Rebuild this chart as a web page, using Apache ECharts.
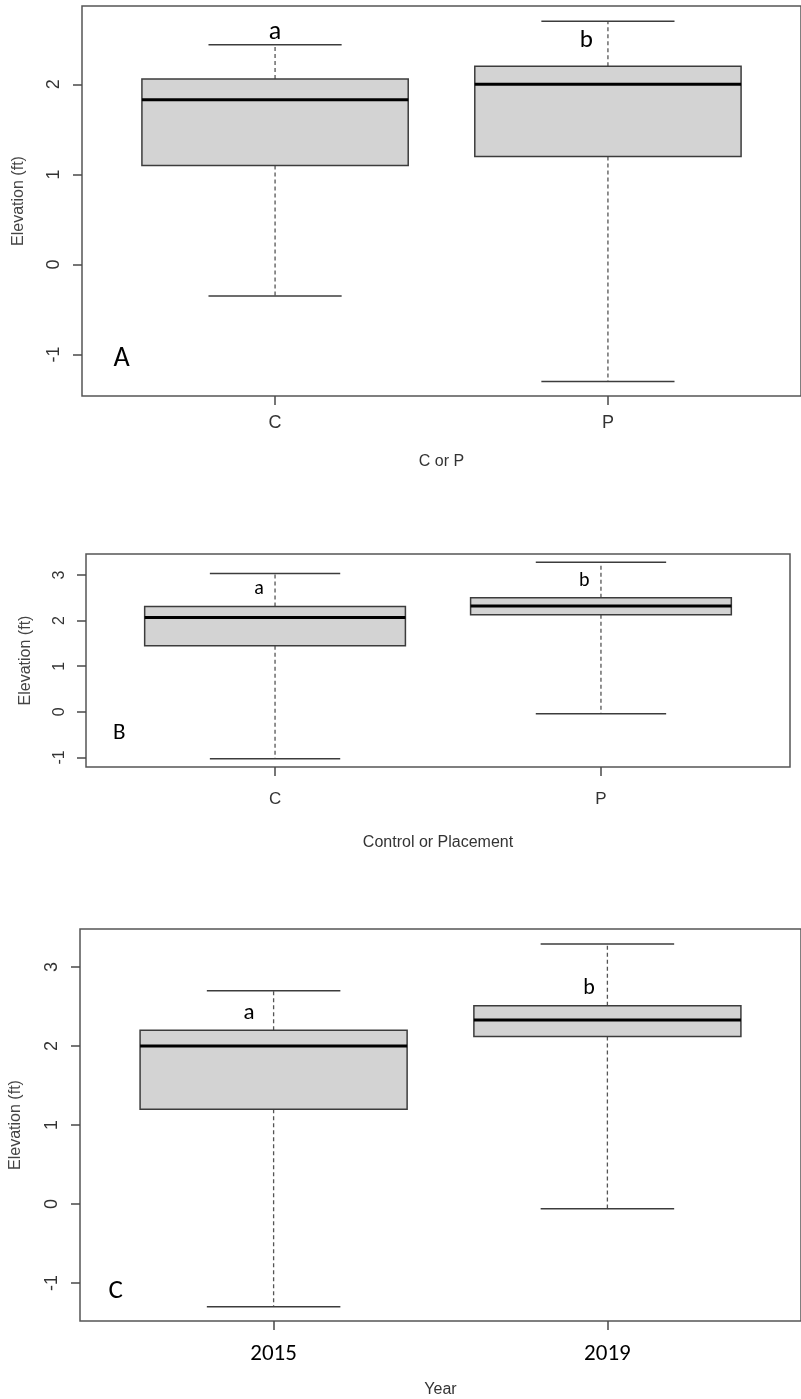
<!DOCTYPE html>
<html>
<head>
<meta charset="utf-8">
<script src="https://cdn.jsdelivr.net/npm/echarts@6/dist/echarts.min.js"></script>
<style>
  html, body { margin: 0; padding: 0; background: #ffffff; }
  #chart { width: 801px; height: 1399px; }
</style>
</head>
<body>
<div id="chart"></div>
<script>
// ---------------- DATA (five-number summaries) ----------------
// each stats row: [lower whisker, Q1, median, Q3, upper whisker]
const catsA = ['C', 'P'];
const statsA = [
  [-0.35, 1.10, 1.83, 2.06, 2.44],
  [-1.30, 1.20, 2.00, 2.20, 2.70]
];
const lettersA = ['a', 'b', 'A'];
const yTicksA = [-1, 0, 1, 2];

const catsB = ['C', 'P'];
const statsB = [
  [-1.03, 1.45, 2.07, 2.31, 3.03],
  [-0.04, 2.13, 2.32, 2.50, 3.28]
];
const lettersB = ['a', 'b', 'B'];
const yTicksB = [-1, 0, 1, 2, 3];

const catsC = ['2015', '2019'];
const statsC = [
  [-1.30, 1.20, 2.00, 2.20, 2.70],
  [-0.06, 2.12, 2.33, 2.51, 3.29]
];
const lettersC = ['a', 'b', 'C'];
const yTicksC = [-1, 0, 1, 2, 3];

const yTitle = 'Elevation (ft)';
const xTitles = ['C or P', 'Control or Placement', 'Year'];

// ---------------- LAYOUT / STYLE ----------------
const FONT_R = "'Liberation Sans', Arial, Helvetica, sans-serif";
const FONT_CAL = "Carlito, Lato, 'Open Sans', sans-serif";
const AX = '#4a4a4a';

const panels = [
  {
    grid: { left: 82, top: 6, width: 726, height: 390 },
    yRange: [-1.46, 2.87], cats: catsA, stats: statsA, yTicks: yTicksA, letters: lettersA,
    letterPos: [[1.00, 2.58], [1.935, 2.48], [0.539, -1.05]], letterSize: [26, 25, 28],
    xName: xTitles[0], xNameGap: 58, xLabelSize: 18, xLabelMargin: 18, xLabelFont: FONT_R, xLabelColor: '#333',
    yLabelSize: 18, yLabelMargin: 19, yNameGap: 55, nameSize: 16
  },
  {
    grid: { left: 86, top: 554, width: 704, height: 213 },
    yRange: [-1.21, 3.46], cats: catsB, stats: statsB, yTicks: yTicksB, letters: lettersB,
    letterPos: [[0.951, 2.70], [1.949, 2.87], [0.522, -0.46]], letterSize: [20, 20, 23],
    xName: xTitles[1], xNameGap: 68, xLabelSize: 17, xLabelMargin: 24, xLabelFont: FONT_R, xLabelColor: '#333',
    yLabelSize: 16, yLabelMargin: 18, yNameGap: 52, nameSize: 16
  },
  {
    grid: { left: 77, top: 929, width: 734, height: 394 },
    yRange: [-1.48, 3.48], cats: catsC, stats: statsC, yTicks: yTicksC, letters: lettersC,
    letterPos: [[0.926, 2.41], [1.945, 2.73], [0.527, -1.10]], letterSize: [23, 22, 27],
    xName: xTitles[2], xNameGap: 61, xLabelSize: 23, xLabelMargin: 22, xLabelFont: FONT_CAL, xLabelColor: '#000',
    yLabelSize: 18, yLabelMargin: 19, yNameGap: 56, nameSize: 16
  }
];

const BOX_WIDTH = 0.8;   // in category units (R default)
const STAPLE = 0.5;      // staple width relative to box

function renderBox(params, api) {
  const x = api.value(0);
  const lo = api.coord([x, api.value(1)]);
  const q1 = api.coord([x, api.value(2)]);
  const med = api.coord([x, api.value(3)]);
  const q3 = api.coord([x, api.value(4)]);
  const hi = api.coord([x, api.value(5)]);
  const bw = api.size([BOX_WIDTH, 0])[0];
  const sw = bw * STAPLE;
  const cx = q1[0];
  const stroke = '#3c3c3c';
  return {
    type: 'group',
    children: [
      { type: 'line', shape: { x1: cx, y1: q3[1], x2: cx, y2: hi[1] },
        style: { stroke: '#555', lineWidth: 1.3, lineDash: [4, 3] } },
      { type: 'line', shape: { x1: cx, y1: q1[1], x2: cx, y2: lo[1] },
        style: { stroke: '#555', lineWidth: 1.3, lineDash: [4, 3] } },
      { type: 'line', shape: { x1: cx - sw / 2, y1: hi[1], x2: cx + sw / 2, y2: hi[1] },
        style: { stroke: stroke, lineWidth: 1.5 } },
      { type: 'line', shape: { x1: cx - sw / 2, y1: lo[1], x2: cx + sw / 2, y2: lo[1] },
        style: { stroke: stroke, lineWidth: 1.5 } },
      { type: 'rect', shape: { x: cx - bw / 2, y: q3[1], width: bw, height: q1[1] - q3[1] },
        style: { fill: '#d3d3d3', stroke: stroke, lineWidth: 1.5 } },
      { type: 'line', shape: { x1: cx - bw / 2, y1: med[1], x2: cx + bw / 2, y2: med[1] },
        style: { stroke: '#000', lineWidth: 3 } }
    ]
  };
}

const option = {
  animation: false,
  backgroundColor: '#ffffff',
  grid: [], xAxis: [], yAxis: [], series: []
};

panels.forEach((p, i) => {
  option.grid.push(Object.assign({
    show: true, borderColor: '#555', borderWidth: 1.5, backgroundColor: 'transparent', containLabel: false
  }, p.grid));

  const xPos = p.cats.map((_, k) => k + 1);
  option.xAxis.push({
    type: 'value', gridIndex: i, min: 0.42, max: 2.58, position: 'bottom',
    axisLine: { show: false, onZero: false },
    splitLine: { show: false },
    axisTick: { show: true, customValues: xPos, length: 9, lineStyle: { color: AX, width: 1.5 } },
    axisLabel: {
      show: true, customValues: xPos, margin: p.xLabelMargin,
      formatter: (v) => p.cats[Math.round(v) - 1] || '',
      fontSize: p.xLabelSize, fontFamily: p.xLabelFont, color: p.xLabelColor
    },
    name: p.xName, nameLocation: 'middle', nameGap: p.xNameGap,
    nameTextStyle: { fontSize: p.nameSize, fontFamily: FONT_R, color: '#333' }
  });

  option.yAxis.push({
    type: 'value', gridIndex: i, min: p.yRange[0], max: p.yRange[1], position: 'left',
    axisLine: { show: false, onZero: false },
    splitLine: { show: false },
    axisTick: { show: true, customValues: p.yTicks, length: 9, lineStyle: { color: AX, width: 1.5 } },
    axisLabel: {
      show: true, customValues: p.yTicks, rotate: 90, margin: p.yLabelMargin,
      fontSize: p.yLabelSize, fontFamily: FONT_R, color: '#333'
    },
    name: yTitle, nameLocation: 'middle', nameGap: p.yNameGap,
    nameTextStyle: { fontSize: p.nameSize, fontFamily: FONT_R, color: '#444' }
  });

  option.series.push({
    type: 'custom', xAxisIndex: i, yAxisIndex: i, clip: false,
    data: p.stats.map((s, k) => [k + 1].concat(s)),
    encode: { x: 0, y: [1, 2, 3, 4, 5] },
    renderItem: renderBox, silent: true
  });

  option.series.push({
    type: 'custom', xAxisIndex: i, yAxisIndex: i, clip: false, silent: true,
    data: p.letterPos.map((pos) => [pos[0], pos[1]]),
    encode: { x: 0, y: 1 },
    renderItem: (params, api) => {
      const pt = api.coord([api.value(0), api.value(1)]);
      return {
        type: 'text', x: pt[0], y: pt[1],
        style: {
          text: p.letters[params.dataIndex], fill: '#000',
          fontSize: p.letterSize[params.dataIndex], fontFamily: FONT_CAL,
          align: 'center', verticalAlign: 'middle'
        }
      };
    }
  });
});

const chart = echarts.init(document.getElementById('chart'), null, { renderer: 'canvas' });
chart.setOption(option);
</script>
</body>
</html>
